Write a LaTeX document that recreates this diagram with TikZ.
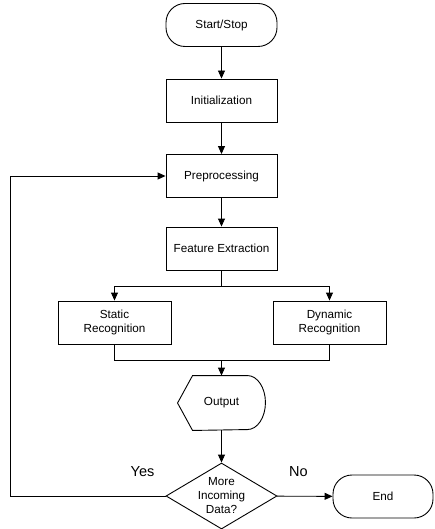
\documentclass[tikz,border=0pt]{standalone}
\usepackage{fontspec}
\setmainfont{Liberation Sans}
\usepackage{tikz}
\usetikzlibrary{shapes.geometric,arrows.meta}

\begin{document}
\begin{tikzpicture}[x=1pt, y=-1pt, line width=0.9pt,
		font=\fontsize{11.7}{14}\selectfont,
		box/.style={draw, minimum width=111pt, minimum height=43pt, align=center, inner sep=2pt},
		term/.style={box, rounded corners=19pt},
		query/.style={draw, diamond, aspect=1.68, inner sep=0pt, minimum width=111pt, minimum height=66pt, align=center},
		flow/.style={-{Triangle[length=8pt, width=7pt]}},
		answer/.style={font=\fontsize{14.5}{16}\selectfont}]
		\useasboundingbox (0,0) rectangle (434,529);
		\node[term] (start) at (221.5,25) {Start/Stop};
		\node[box] (init) at (221.5,100.5) {Initialization};
		\node[box] (prep) at (221.5,176) {Preprocessing};
		\node[box] (feat) at (221.5,248.5) {Feature Extraction};
		\node[box, minimum width=113pt] (static) at (114.5,322.5) {Static\\Recognition};
		\node[box, minimum width=113pt] (dynamic) at (329.5,322.5) {Dynamic\\Recognition};
		\node[minimum width=87pt, minimum height=54pt, inner sep=0pt] (out) at (221.5,403) {Output};
		\node[query] (more) at (221.5,496) {More\\Incoming\\Data?};
		\node[term, minimum width=100pt] (end) at (383,496.5) {End};
		\coordinate (split) at (221.5,286);
		\coordinate (join) at (221.5,360);
		\coordinate (back) at (10,496);
		\draw (out.west) -- ([xshift=15pt]out.north west) -- ([xshift=-18pt]out.north east)
		arc[start angle=90, end angle=-90, x radius=18pt, y radius=27pt]
		-- ([xshift=15pt]out.south west) -- cycle;
		\draw[flow] (start) -- (init);
		\draw[flow] (init) -- (prep);
		\draw[flow] (prep) -- (feat);
		\draw (feat) -- (split);
		\draw[flow] (split) -| (static);
		\draw[flow] (split) -| (dynamic);
		\draw (static) |- (join);
		\draw (dynamic) |- (join);
		\draw[flow] (join) -- (out);
		\draw[flow] (out) -- (more);
		\draw[flow] (more) -- (end);
		\draw[flow] (more) -- (back) |- (prep);
		\node[answer] (yes) at (142.5,472) {Yes};
		\node[answer] (no) at (298.5,472) {No};
\end{tikzpicture}
\end{document}
